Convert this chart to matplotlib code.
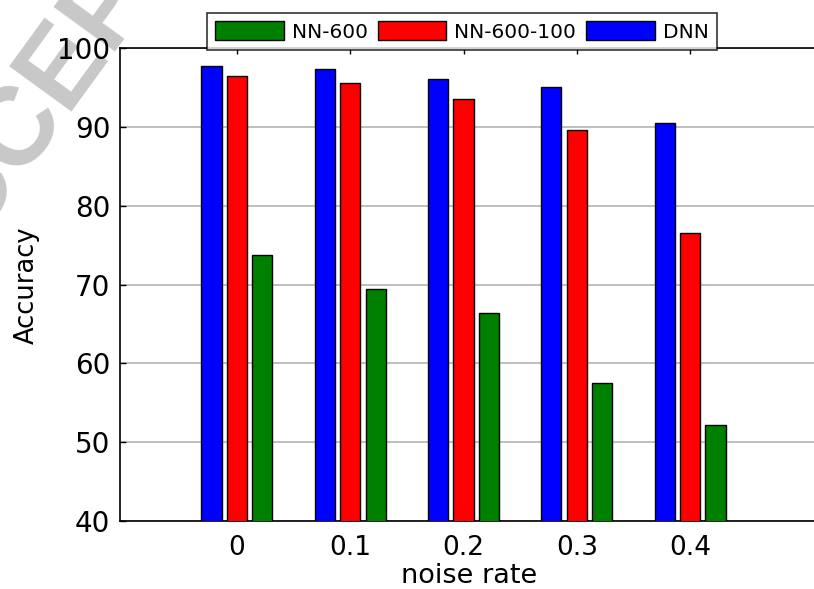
import matplotlib
matplotlib.use("Agg")
import matplotlib.pyplot as plt
import numpy as np

plt.rcParams['font.family'] = ['DejaVu Sans']

noise_rates = [0, 0.1, 0.2, 0.3, 0.4]
tick_labels = ['0', '0.1', '0.2', '0.3', '0.4']
dnn = [97.7, 97.3, 96.1, 95.0, 90.5]
nn600_100 = [96.5, 95.6, 93.5, 89.6, 76.5]
nn600 = [73.7, 69.4, 66.4, 57.5, 52.2]
series_names = ['NN-600', 'NN-600-100', 'DNN']

W, H = 814, 589
fig = plt.figure(figsize=(W / 100, H / 100), dpi=100)

# watermark
fig.text(82 / W, 1 - 45 / H, 'ACCEPTED', fontsize=80, fontweight='bold',
         color='#c8c8c8', rotation=54, ha='center', va='center',
         family='Liberation Sans', zorder=0)

ax = fig.add_axes([120 / W, (H - 521) / H, (830 - 120) / W, (521 - 48) / H])
ax.set_facecolor('white')
ax.set_zorder(1)

x = np.array(noise_rates)
off = 0.0225
bw = 0.0177
ax.bar(x - off, dnn, bw, color='#0000ff', edgecolor='black', linewidth=1, label=series_names[2], zorder=3)
ax.bar(x, nn600_100, bw, color='#ff0000', edgecolor='black', linewidth=1, label=series_names[1], zorder=3)
ax.bar(x + off, nn600, bw, color='#008000', edgecolor='black', linewidth=1, label=series_names[0], zorder=3)

ax.set_xlim(-0.1033, 0.5236)
ax.set_ylim(40, 100)
ax.set_yticks([40, 50, 60, 70, 80, 90, 100])
ax.set_xticks(noise_rates)
ax.set_xticklabels(tick_labels)
ax.yaxis.grid(True, color='#b4b4b4', linewidth=1.2)
ax.set_axisbelow(True)
ax.tick_params(direction='in', length=4, width=1, top=True, right=False, colors='black')
ax.tick_params(axis='y', labelsize=20, pad=7)
ax.tick_params(axis='x', labelsize=19, pad=10)
ax.spines['right'].set_visible(False)
for s in ['left', 'bottom', 'top']:
    ax.spines[s].set_linewidth(1.2)

fig.text(27 / W, 1 - 285 / H, 'Accuracy', rotation=90, fontsize=18.5, ha='center', va='center')
fig.text(469 / W, 1 - 583 / H, 'noise rate', fontsize=19.5, ha='center', va='baseline')

handles, labels = ax.get_legend_handles_labels()
order = [2, 1, 0]
leg = fig.legend([handles[i] for i in order], [labels[i] for i in order], ncol=3,
                 loc='upper left', bbox_to_anchor=(207 / W, 1 - 13 / H),
                 fontsize=14.5, frameon=True, fancybox=False, shadow=False,
                 handlelength=3.4, handleheight=1.1, handletextpad=0.4,
                 columnspacing=0.5, borderpad=0.4, borderaxespad=0)
leg.get_frame().set_edgecolor('black')
leg.get_frame().set_linewidth(1.2)
leg.set_zorder(5)

fig.savefig('out.png', dpi=100, facecolor='white')
